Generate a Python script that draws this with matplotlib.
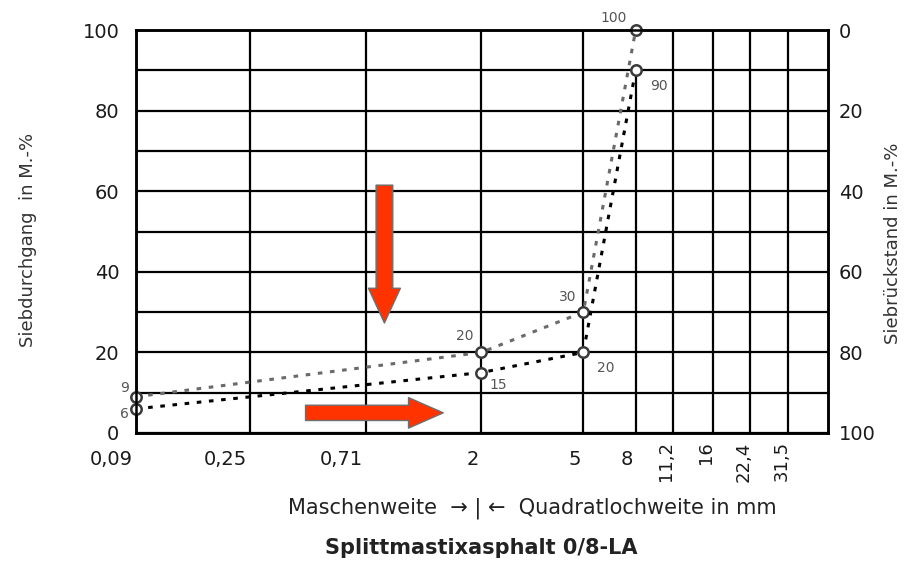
import matplotlib
matplotlib.use("Agg")
import matplotlib.pyplot as plt
from matplotlib.patches import FancyArrowPatch, ArrowStyle

# * - - - Sieve sizes [mm] and grading limits (Siebdurchgang in M.-%)
sieve_mm = [0.09, 2, 5, 8]
upper_pass = [9, 20, 30, 100]
lower_pass = [6, 15, 20, 90]

# * - - - Tick positions and labels of the sieve axis
tick_mm = [0.09, 0.25, 0.71, 2, 5, 8, 11.2, 16, 22.4, 31.5]
tick_labels = ["0,09", "0,25", "0,71", "2", "5", "8", "11,2", "16", "22,4", "31,5"]
n_upright = 6  # first labels are written horizontally, the rest turned by 90°

pass_ticks = [0, 20, 40, 60, 80, 100]
grid_steps = [0, 10, 20, 30, 40, 50, 60, 70, 80, 90, 100]

# * - - - Label offsets next to the points (offset points)
upper_offsets = [(-8, 6), (-12, 12), (-11, 11), (-16, 9)]
lower_offsets = [(-8, -4), (12, -9), (16, -11), (17, -11)]

plt.rcParams["font.family"] = ["DejaVu Sans"]

fig = plt.figure(figsize=(9.11, 5.65), dpi=100)
ax = fig.add_axes([136 / 911, 132 / 565, 692 / 911, 403 / 565])

ax.set_xscale("log")
ax.set_xlim(0.09, 45)
ax.set_ylim(0, 100)

# * - - - Grid: horizontal every 10 %, vertical on every sieve
for g in grid_steps:
    ax.axhline(g, color="black", lw=1.6, zorder=1)
for t in tick_mm:
    top = 90 if t == 8 else 100
    ax.vlines(t, 0, top, color="black", lw=1.6, zorder=1)
for s in ax.spines.values():
    s.set_linewidth(1.8)

ax.set_xticks([])
ax.minorticks_off()
ax.set_yticks(pass_ticks)
ax.tick_params(axis="y", length=0, pad=12, labelsize=14, labelcolor="#1a1a1a")

# * - - - Right axis: Siebrückstand (inverted)
ax2 = ax.twinx()
ax2.set_ylim(100, 0)
ax2.set_yticks(pass_ticks)
ax2.tick_params(axis="y", length=0, pad=8, labelsize=14, labelcolor="#1a1a1a")
for s in ax2.spines.values():
    s.set_linewidth(1.8)

# * - - - Sieve tick labels
for i, (t, lab) in enumerate(zip(tick_mm, tick_labels)):
    if i < n_upright:
        ax.annotate(lab, xy=(t, 0), xycoords=("data", "axes fraction"),
                    xytext=(-2, -12), textcoords="offset points",
                    ha="right", va="top", fontsize=14, color="#1a1a1a",
                    annotation_clip=False)
    else:
        ax.annotate(lab, xy=(t, 0), xycoords=("data", "axes fraction"),
                    xytext=(-5, -6), textcoords="offset points",
                    ha="center", va="top", rotation=90, fontsize=13,
                    color="#1a1a1a", annotation_clip=False)

# * - - - Grading curves
ax.plot(sieve_mm, upper_pass, color="#6a6a6a", lw=2.2, ls=(0, (1.5, 2.5)),
        marker="o", ms=7.5, mfc="white", mec="#3a3a3a", mew=1.8,
        clip_on=False, zorder=3)
ax.plot(sieve_mm, lower_pass, color="black", lw=2.2, ls=(0, (1.5, 2.5)),
        marker="o", ms=7.5, mfc="white", mec="#3a3a3a", mew=1.8,
        clip_on=False, zorder=3)

for x, y, off in zip(sieve_mm, upper_pass, upper_offsets):
    ax.annotate(str(y), xy=(x, y), xytext=off, textcoords="offset points",
                ha="center", va="center", fontsize=10, color="#555555",
                annotation_clip=False)
for x, y, off in zip(sieve_mm, lower_pass, lower_offsets):
    ax.annotate(str(y), xy=(x, y), xytext=off, textcoords="offset points",
                ha="center", va="center", fontsize=10, color="#555555",
                annotation_clip=False)

# * - - - Red arrows
arrow_down = FancyArrowPatch((0.359, 0.615), (0.359, 0.273),
                             transform=ax.transAxes,
                             arrowstyle=ArrowStyle.Simple(head_length=25, head_width=23, tail_width=12),
                             mutation_scale=1, shrinkA=0, shrinkB=0,
                             facecolor="#FF3300", edgecolor="#6E6E6E", lw=1,
                             zorder=5)
arrow_right = FancyArrowPatch((0.245, 0.050), (0.444, 0.050),
                              transform=ax.transAxes,
                              arrowstyle=ArrowStyle.Simple(head_length=25, head_width=22, tail_width=11),
                              mutation_scale=1, shrinkA=0, shrinkB=0,
                              facecolor="#FF3300", edgecolor="#6E6E6E", lw=1,
                              zorder=5)
ax.add_patch(arrow_down)
ax.add_patch(arrow_right)

# * - - - Axis titles
fig.text(0.031, 0.575, "Siebdurchgang  in M.-%", rotation=90, ha="center",
         va="center", fontsize=13, color="#333333")
fig.text(0.980, 0.57, "Siebrückstand in M.-%", rotation=90, ha="center",
         va="center", fontsize=13, color="#333333")
fig.text(0.584, 0.101, "Maschenweite  \u2192 | \u2190  Quadratlochweite in mm",
         ha="center", va="center", fontsize=15, color="#222222")
fig.text(0.528, 0.030, "Splittmastixasphalt 0/8-LA", ha="center", va="center",
         fontsize=15, fontweight="bold", color="#222222")

fig.savefig("out.png", dpi=100)
